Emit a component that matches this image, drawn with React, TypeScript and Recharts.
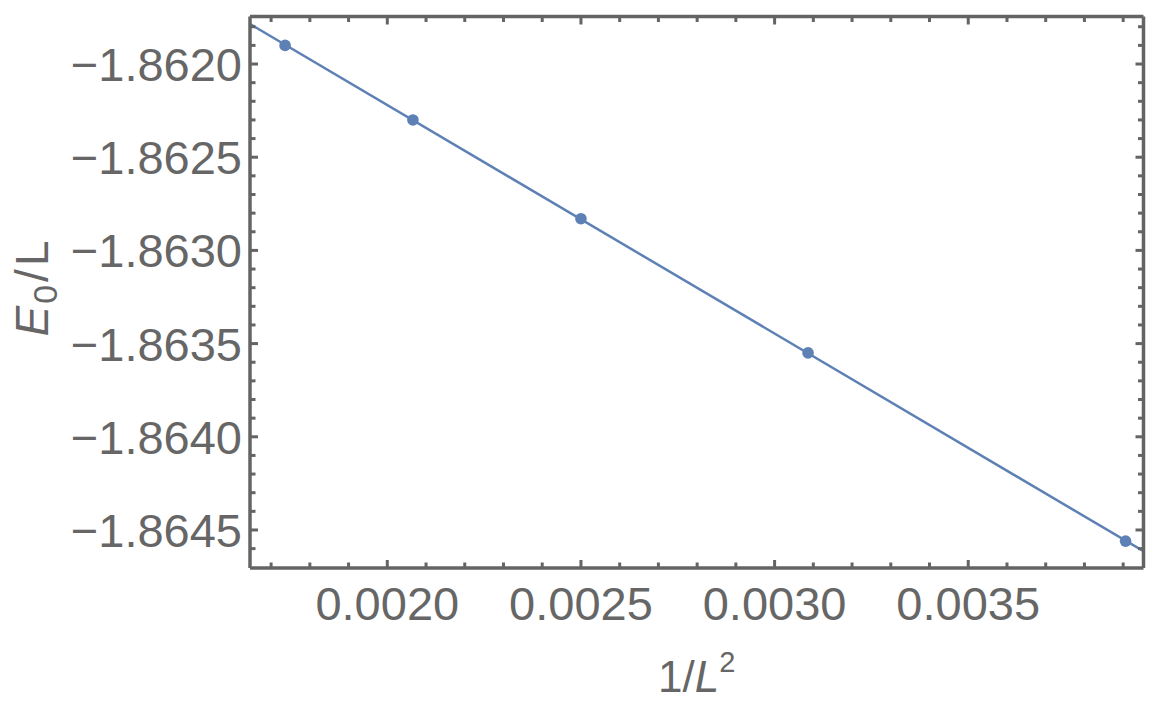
import React from "react";
import { ComposedChart, XAxis, YAxis, Line, Scatter } from "recharts";

// 1/L^2 for L = 24, 22, 20, 18, 16
const xValues = [1 / 576, 1 / 484, 1 / 400, 1 / 324, 1 / 256];
const yValues = [-1.8619, -1.8623, -1.86283, -1.86355, -1.86456];

const xMajorTicks = [0.002, 0.0025, 0.003, 0.0035];
const xMinorTicks = [
  0.0017, 0.0018, 0.0019, 0.0021, 0.0022, 0.0023, 0.0024, 0.0026, 0.0027, 0.0028,
  0.0029, 0.0031, 0.0032, 0.0033, 0.0034, 0.0036, 0.0037, 0.0038, 0.0039,
];
const yMajorTicks = [-1.862, -1.8625, -1.863, -1.8635, -1.864, -1.8645];
const yMinorTicks = [
  -1.8618, -1.8619, -1.8621, -1.8622, -1.8623, -1.8624, -1.8626, -1.8627, -1.8628,
  -1.8629, -1.8631, -1.8632, -1.8633, -1.8634, -1.8636, -1.8637, -1.8638, -1.8639,
  -1.8641, -1.8642, -1.8643, -1.8644, -1.8646,
];

const xDomain: [number, number] = [0.0016455, 0.0039525];
const yDomain: [number, number] = [-1.864704, -1.861745];

const points = xValues.map((x, i) => ({ x, y: yValues[i] }));

// least-squares fit line
const n = xValues.length;
const mx = xValues.reduce((a, b) => a + b, 0) / n;
const my = yValues.reduce((a, b) => a + b, 0) / n;
let sxy = 0;
let sxx = 0;
for (let i = 0; i < n; i++) {
  sxy += (xValues[i] - mx) * (yValues[i] - my);
  sxx += (xValues[i] - mx) * (xValues[i] - mx);
}
const slope = sxy / sxx;
const intercept = my - slope * mx;
const fitData = xDomain.map((x) => ({ x, y: intercept + slope * x }));

const FRAME = "#646464";
const TEXT = "#666666";
const BLUE = "#5E81B5";
const FONT = "'Liberation Sans', Arial, Helvetica, sans-serif";
const MAJOR_LEN = 8;
const MINOR_LEN = 5.5;
const TICK_W = 3;

const isIn = (arr: number[], v: number) => arr.some((t) => Math.abs(t - v) < 1e-9);
const fmtX = (v: number) => v.toFixed(4);
const fmtY = (v: number) => v.toFixed(4).replace("-", "\u2212");

const BottomTick = (props: any) => {
  const { x, y, payload } = props;
  const v = payload.value;
  const major = isIn(xMajorTicks, v);
  return (
    <g>
      <line x1={x} x2={x} y1={y} y2={y - (major ? MAJOR_LEN : MINOR_LEN)} stroke={FRAME} strokeWidth={TICK_W} />
      {major && (
        <text x={x} y={y + 52} textAnchor="middle" fill={TEXT} fontSize={47} fontFamily={FONT}>
          {fmtX(v)}
        </text>
      )}
    </g>
  );
};

const TopTick = (props: any) => {
  const { x, y, payload } = props;
  const major = isIn(xMajorTicks, payload.value);
  return <line x1={x} x2={x} y1={y} y2={y + (major ? MAJOR_LEN : MINOR_LEN)} stroke={FRAME} strokeWidth={TICK_W} />;
};

const LeftTick = (props: any) => {
  const { x, y, payload } = props;
  const v = payload.value;
  const major = isIn(yMajorTicks, v);
  return (
    <g>
      <line x1={x} x2={x + (major ? MAJOR_LEN : MINOR_LEN)} y1={y} y2={y} stroke={FRAME} strokeWidth={TICK_W} />
      {major && (
        <text x={x - 8} y={y + 17} textAnchor="end" fill={TEXT} fontSize={47} fontFamily={FONT}>
          {fmtY(v)}
        </text>
      )}
    </g>
  );
};

const RightTick = (props: any) => {
  const { x, y, payload } = props;
  const major = isIn(yMajorTicks, payload.value);
  return <line x1={x} x2={x - (major ? MAJOR_LEN : MINOR_LEN)} y1={y} y2={y} stroke={FRAME} strokeWidth={TICK_W} />;
};

const XLabel = (props: any) => {
  const vb = props.viewBox;
  const cx = vb.x + vb.width / 2;
  const by = vb.y + 124;
  return (
    <text x={cx} y={by} textAnchor="middle" fill={TEXT} fontSize={44} fontFamily={FONT}>
      <tspan>1/</tspan>
      <tspan fontStyle="italic">L</tspan>
      <tspan fontSize={29} dy={-20}>2</tspan>
    </text>
  );
};

const YLabel = (props: any) => {
  const vb = props.viewBox;
  const bx = vb.x + vb.width - 202;
  const by = vb.y + 320;
  return (
    <text
      x={bx}
      y={by}
      textAnchor="start"
      fill={TEXT}
      fontSize={46}
      fontFamily={FONT}
      transform={`rotate(-90, ${bx}, ${by})`}
    >
      <tspan fontStyle="italic">E</tspan>
      <tspan fontSize={34} dx={2} dy={9}>0</tspan>
      <tspan dx={3} dy={-9}>/</tspan>
      <tspan dx={3}>L</tspan>
    </text>
  );
};

const allX = [...xMajorTicks, ...xMinorTicks].sort((a, b) => a - b);
const allY = [...yMajorTicks, ...yMinorTicks].sort((a, b) => a - b);

export default function App() {
  return (
    <ComposedChart
      width={1150}
      height={700}
      margin={{ top: 7.5, right: 13.5, bottom: 40, left: 142 }}
      style={{ background: "#ffffff" }}
    >
      <XAxis
        xAxisId="bottom"
        dataKey="x"
        type="number"
        orientation="bottom"
        domain={xDomain}
        allowDataOverflow
        ticks={allX}
        interval={0}
        tickSize={0}
        tickMargin={0}
        tickLine={false}
        tick={<BottomTick />}
        height={100}
        axisLine={{ stroke: FRAME, strokeWidth: 3.5 }}
        label={<XLabel />}
      />
      <XAxis
        xAxisId="top"
        dataKey="x"
        type="number"
        orientation="top"
        domain={xDomain}
        allowDataOverflow
        ticks={allX}
        interval={0}
        tickSize={0}
        tickMargin={0}
        tickLine={false}
        tick={<TopTick />}
        height={1}
        axisLine={{ stroke: FRAME, strokeWidth: 3.5 }}
      />
      <YAxis
        yAxisId="left"
        type="number"
        orientation="left"
        domain={yDomain}
        allowDataOverflow
        ticks={allY}
        interval={0}
        tickSize={0}
        tickMargin={0}
        tickLine={false}
        tick={<LeftTick />}
        width={100}
        axisLine={{ stroke: FRAME, strokeWidth: 3.5 }}
        label={<YLabel />}
      />
      <YAxis
        yAxisId="right"
        type="number"
        orientation="right"
        domain={yDomain}
        allowDataOverflow
        ticks={allY}
        interval={0}
        tickSize={0}
        tickMargin={0}
        tickLine={false}
        tick={<RightTick />}
        width={1}
        axisLine={{ stroke: FRAME, strokeWidth: 3.5 }}
      />
      <Line
        xAxisId="bottom"
        yAxisId="left"
        data={fitData}
        dataKey="y"
        type="linear"
        stroke={BLUE}
        strokeWidth={2.5}
        dot={false}
        activeDot={false}
        isAnimationActive={false}
      />
      <Scatter
        xAxisId="bottom"
        yAxisId="left"
        data={points}
        dataKey="y"
        fill={BLUE}
        shape={(p: any) => <circle cx={p.cx} cy={p.cy} r={5.8} fill={BLUE} />}
        isAnimationActive={false}
      />
    </ComposedChart>
  );
}
